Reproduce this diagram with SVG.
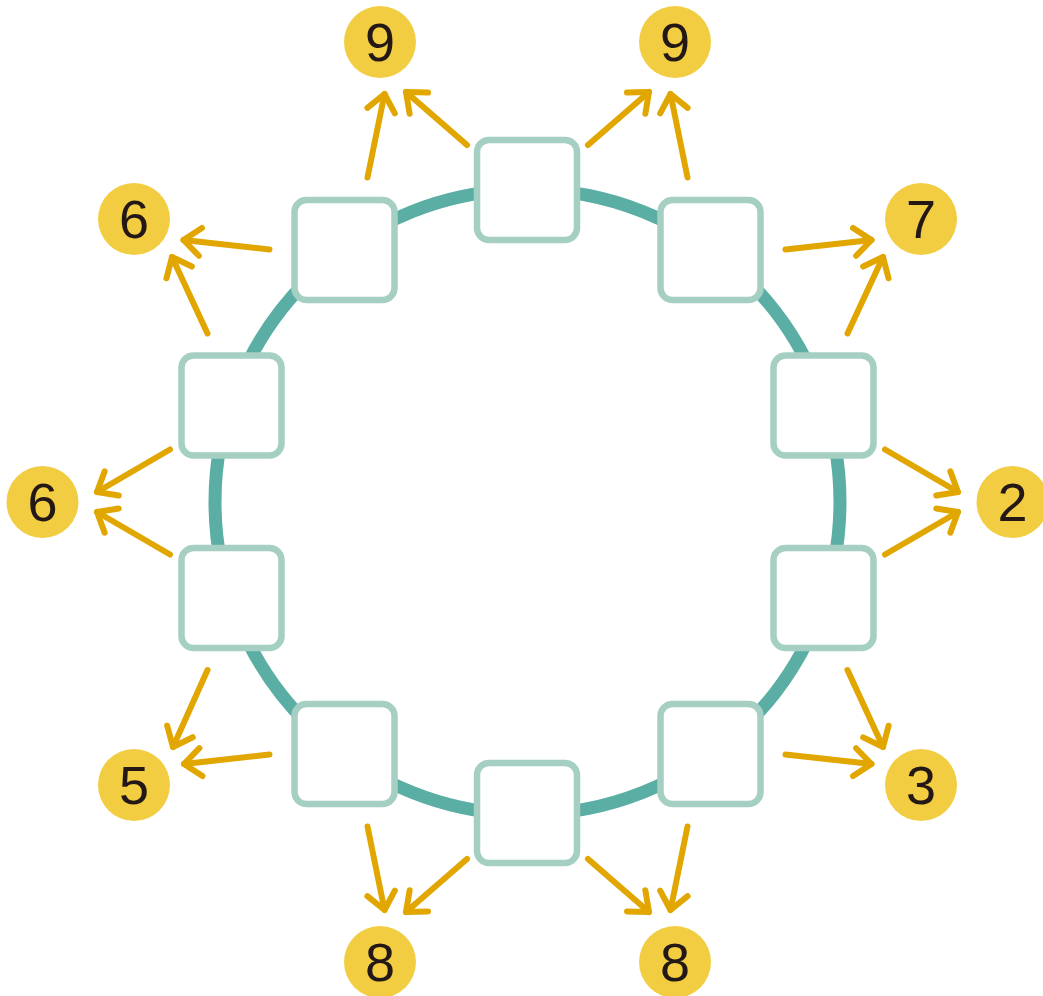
<svg xmlns="http://www.w3.org/2000/svg" width="1043" height="996" viewBox="0 0 1043 996">
<style>
.ring{fill:none;stroke:#5aaea3;stroke-width:13}
.box{fill:#fff;stroke:#a5cfc2;stroke-width:6.5}
.num circle{fill:#f2cd42}
.num text{font-family:"Liberation Sans",Arial,sans-serif;font-size:54px;fill:#231815;text-anchor:middle}
.arr line{stroke:#e2a600;stroke-width:6;stroke-linecap:round;marker-end:url(#ah)}
</style>
<defs>
<marker id="ah" markerUnits="userSpaceOnUse" orient="auto" refX="0" refY="0" markerWidth="40" markerHeight="40" viewBox="-25 -20 30 40" overflow="visible">
<path d="M-17,-14 L0,0 L-17,14" fill="none" stroke="#e2a600" stroke-width="6" stroke-linecap="round" stroke-linejoin="round"/>
</marker>
</defs>
<circle class="ring" cx="527.5" cy="502" r="312.5"/>
<g id="boxes">
<rect id="box-top" class="box" x="477" y="140" width="100" height="100" rx="12"/>
<rect id="box-top-right" class="box" x="660.5" y="200" width="100" height="100" rx="12"/>
<rect id="box-right-upper" class="box" x="773.5" y="355.5" width="100" height="100" rx="12"/>
<rect id="box-right-lower" class="box" x="773.5" y="548" width="100" height="100" rx="12"/>
<rect id="box-bottom-right" class="box" x="660.5" y="704" width="100" height="100" rx="12"/>
<rect id="box-bottom" class="box" x="477" y="763" width="100" height="100" rx="12"/>
<rect id="box-bottom-left" class="box" x="294.5" y="704" width="100" height="100" rx="12"/>
<rect id="box-left-lower" class="box" x="181.5" y="548" width="100" height="100" rx="12"/>
<rect id="box-left-upper" class="box" x="181.5" y="355.5" width="100" height="100" rx="12"/>
<rect id="box-top-left" class="box" x="294.5" y="200" width="100" height="100" rx="12"/>
</g>
<g id="connectors" class="arr">
<line x1="367.5" y1="177.5" x2="384.5" y2="94"/>
<line x1="467" y1="145" x2="406" y2="92"/>
<line x1="687.5" y1="177.5" x2="670.5" y2="94"/>
<line x1="588" y1="145" x2="649" y2="92"/>
<line x1="269.5" y1="249.5" x2="183.5" y2="240"/>
<line x1="207.5" y1="333.5" x2="172" y2="257"/>
<line x1="785.5" y1="249.5" x2="871.5" y2="240"/>
<line x1="847.5" y1="333.5" x2="883" y2="257"/>
<line x1="170" y1="449.5" x2="97" y2="492"/>
<line x1="170" y1="554.5" x2="97" y2="512"/>
<line x1="885" y1="449.5" x2="958" y2="492"/>
<line x1="885" y1="554.5" x2="958" y2="512"/>
<line x1="207.5" y1="670" x2="173" y2="747"/>
<line x1="269.5" y1="754.5" x2="184" y2="764"/>
<line x1="785.5" y1="754.5" x2="871.5" y2="764"/>
<line x1="847.5" y1="670" x2="883" y2="747"/>
<line x1="367.5" y1="826.5" x2="384.5" y2="910"/>
<line x1="467" y1="859" x2="406" y2="912"/>
<line x1="687.5" y1="826.5" x2="670.5" y2="910"/>
<line x1="588" y1="859" x2="649" y2="912"/>
</g>
<g id="n-9a" class="num"><circle cx="380" cy="42" r="36"/><text x="380" y="61">9</text></g>
<g id="n-9b" class="num"><circle cx="675" cy="42" r="36"/><text x="675" y="61">9</text></g>
<g id="n-6a" class="num"><circle cx="134" cy="219" r="36"/><text x="134" y="238">6</text></g>
<g id="n-7" class="num"><circle cx="921" cy="219" r="36"/><text x="921" y="238">7</text></g>
<g id="n-6b" class="num"><circle cx="42.5" cy="502" r="36"/><text x="42.5" y="521">6</text></g>
<g id="n-2" class="num"><circle cx="1012.5" cy="502" r="36"/><text x="1012.5" y="521">2</text></g>
<g id="n-5" class="num"><circle cx="134" cy="785" r="36"/><text x="134" y="804">5</text></g>
<g id="n-3" class="num"><circle cx="921" cy="785" r="36"/><text x="921" y="804">3</text></g>
<g id="n-8a" class="num"><circle cx="380" cy="962" r="36"/><text x="380" y="981">8</text></g>
<g id="n-8b" class="num"><circle cx="675" cy="962" r="36"/><text x="675" y="981">8</text></g>
</svg>
